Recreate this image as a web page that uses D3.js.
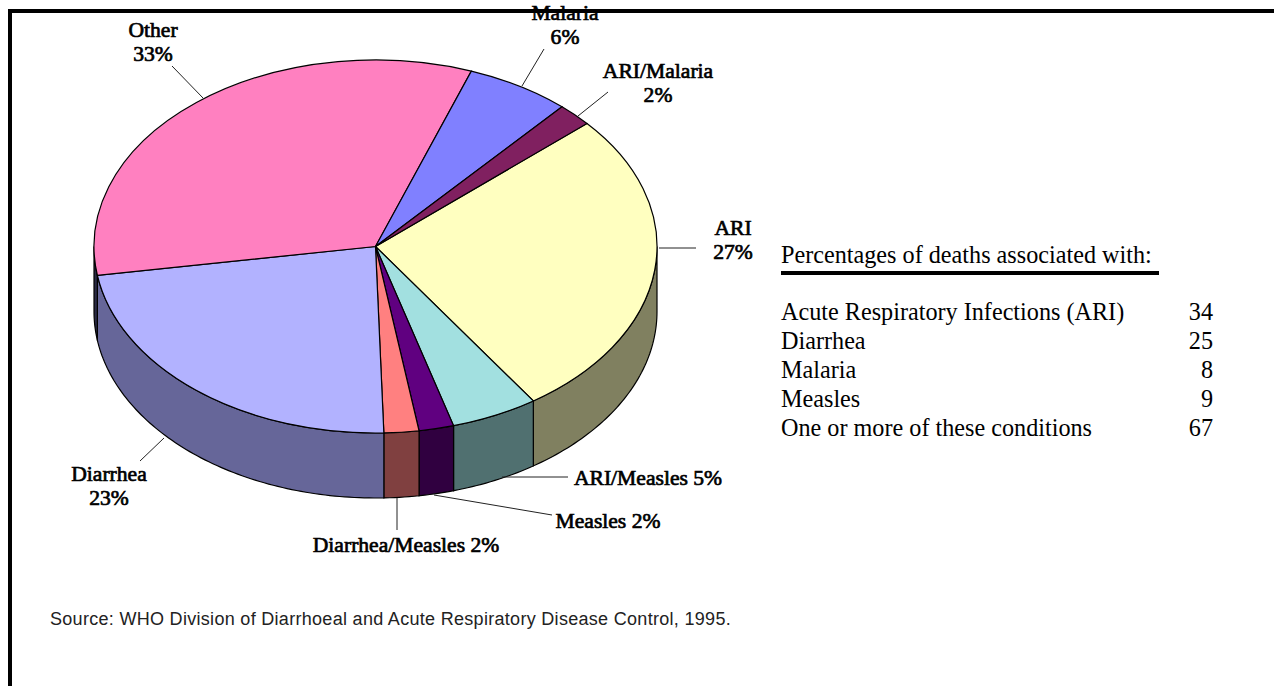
<!DOCTYPE html>
<html>
<head>
<meta charset="utf-8">
<style>
  html, body { margin: 0; padding: 0; background: #fff; overflow: hidden; }
  .lbl { font-family: "Liberation Serif", serif; font-size: 21.6px; fill: #000; stroke: #000; stroke-width: 0.7px; text-anchor: middle; }
  .tbl { font-family: "Liberation Serif", serif; font-size: 24.2px; fill: #000; }
  .src { font-family: "Liberation Sans", sans-serif; font-size: 18px; letter-spacing: 0.3px; fill: #222; }
</style>
</head>
<body>
<div id="chart"></div>
<script src="https://cdn.jsdelivr.net/npm/d3@7"></script>
<script>
// slices clockwise, starting from the ARI slice
var sliceNames = ["ARI", "ARI/Measles", "Measles", "Diarrhea/Measles", "Diarrhea", "Other", "Malaria", "ARI/Malaria"];
var sliceValues = [27, 5, 2, 2, 23, 33, 6, 2];
var topColors = ["#ffffc0", "#a2e0e0", "#600080", "#ff8080", "#b2b2ff", "#ff80c0", "#8080ff", "#802060"];
var sideColors = ["#808060", "#507070", "#300040", "#804040", "#666699", "#2a2a44", "#404080", "#401030"];

var tableNames = ["Acute Respiratory Infections (ARI)", "Diarrhea", "Malaria", "Measles", "One or more of these conditions"];
var tableValues = [34, 25, 8, 9, 67];

var width = 1274, height = 686;
var cx = 375.5, cy = 246.5, rx = 281.5, ry = 186.5, depth = 65;
var deg = Math.PI / 180;

var svg = d3.select("#chart").append("svg")
    .attr("width", width)
    .attr("height", height)
    .style("display", "block");

var pie = d3.pie().sort(null)
    .startAngle(48.7 * deg)
    .endAngle(408.7 * deg);
var arcs = pie(sliceValues);

function ptX(a) { return cx + rx * Math.sin(a); }
function ptY(a) { return cy - ry * Math.cos(a); }

// side wall: only the part of each slice on the front half of the ellipse
var wallLine = d3.line().x(function(p) { return p[0]; }).y(function(p) { return p[1]; });
function wallPath(d) {
    var a0 = Math.max(d.startAngle, 90 * deg), a1 = Math.min(d.endAngle, 270 * deg);
    if (a1 <= a0) return null;
    var angles = d3.range(a0, a1, 1 * deg).concat([a1]);
    var front = angles.map(function(a) { return [ptX(a), ptY(a)]; });
    var back = angles.slice().reverse().map(function(a) { return [ptX(a), ptY(a) + depth]; });
    return wallLine(front.concat(back)) + "Z";
}

svg.append("g").selectAll("path")
    .data(arcs)
    .enter()
    .append("path")
    .attr("d", wallPath)
    .attr("fill", function(d, i) { return sideColors[i]; })
    .attr("stroke", "#000")
    .attr("stroke-width", 1.2);

// top of the pie: a circular arc squashed into the ellipse
var arc = d3.arc().innerRadius(0).outerRadius(rx);

svg.append("g")
    .attr("transform", "translate(" + cx + "," + cy + ") scale(1," + (ry / rx) + ")")
    .selectAll("path")
    .data(arcs)
    .enter()
    .append("path")
    .attr("d", arc)
    .attr("fill", function(d, i) { return topColors[i]; })
    .attr("stroke", "#000")
    .attr("stroke-width", 1.2)
    .attr("vector-effect", "non-scaling-stroke");

// label lines, [x1, y1, x2, y2]
var leaderLines = [
    [659, 248, 696, 248],
    [502, 477, 568, 477],
    [434, 495, 552, 515],
    [397, 498, 397, 530],
    [164, 438, 140, 461],
    [203, 98, 172, 66],
    [522, 86, 544, 49],
    [578, 116, 608, 92]
];
svg.append("g").selectAll("line")
    .data(leaderLines)
    .enter()
    .append("line")
    .attr("x1", function(d) { return d[0]; })
    .attr("y1", function(d) { return d[1]; })
    .attr("x2", function(d) { return d[2]; })
    .attr("y2", function(d) { return d[3]; })
    .attr("stroke", "#222")
    .attr("stroke-width", 1);

// table on the right
var tableY = d3.scalePoint().domain(tableNames).range([319.5, 435.5]);

svg.append("text").attr("class", "tbl").attr("x", 781).attr("y", 262.5)
    .text("Percentages of deaths associated with:");
svg.append("rect").attr("x", 781).attr("y", 271).attr("width", 378).attr("height", 4).attr("fill", "#000");

svg.append("g").selectAll("text")
    .data(tableNames)
    .enter()
    .append("text")
    .attr("class", "tbl")
    .attr("x", 781)
    .attr("y", function(d) { return tableY(d); })
    .text(function(d) { return d; });

svg.append("g").selectAll("text")
    .data(tableValues)
    .enter()
    .append("text")
    .attr("class", "tbl")
    .attr("x", 1213)
    .attr("text-anchor", "end")
    .attr("y", function(d, i) { return tableY(tableNames[i]); })
    .text(function(d) { return d; });

svg.append("text").attr("class", "src").attr("x", 50).attr("y", 625)
    .text("Source: WHO Division of Diarrhoeal and Acute Respiratory Disease Control, 1995.");

// frame: top and left only
svg.append("rect").attr("x", 8).attr("y", 9).attr("width", width - 8).attr("height", 4).attr("fill", "#000");
svg.append("rect").attr("x", 8).attr("y", 9).attr("width", 4).attr("height", height - 9).attr("fill", "#000");

// label text, drawn last because Malaria sits across the frame
var labelRows = [
    ["ARI", 733, 235], ["27%", 733, 259],
    ["ARI/Measles 5%", 648, 485],
    ["Measles 2%", 608, 528],
    ["Diarrhea/Measles 2%", 406, 552],
    ["Diarrhea", 109, 481], ["23%", 109, 505],
    ["Other", 153, 37], ["33%", 153, 61],
    ["Malaria", 565, 20], ["6%", 565, 44],
    ["ARI/Malaria", 658, 78], ["2%", 658, 102]
];
svg.append("g")
    .selectAll("text")
    .data(labelRows)
    .enter()
    .append("text")
    .attr("class", "lbl")
    .attr("x", function(d) { return d[1]; })
    .attr("y", function(d) { return d[2]; })
    .text(function(d) { return d[0]; });
</script>
</body>
</html>
